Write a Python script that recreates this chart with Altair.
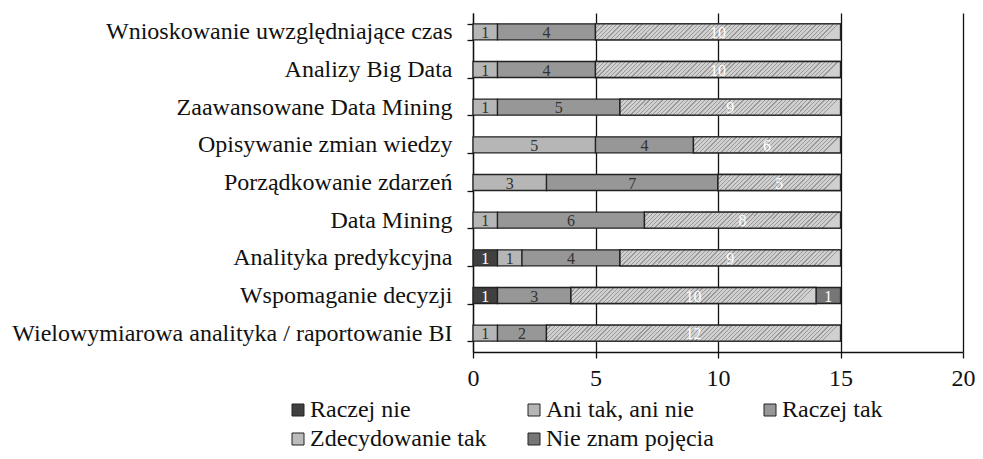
import altair as alt
import pandas as pd

categories = [
    "Wnioskowanie uwzględniające czas",
    "Analizy Big Data",
    "Zaawansowane Data Mining",
    "Opisywanie zmian wiedzy",
    "Porządkowanie zdarzeń",
    "Data Mining",
    "Analityka predykcyjna",
    "Wspomaganie decyzji",
    "Wielowymiarowa analityka / raportowanie BI",
]
series = ["Raczej nie", "Ani tak, ani nie", "Raczej tak", "Zdecydowanie tak", "Nie znam pojęcia"]
raczej_nie = [0, 0, 0, 0, 0, 0, 1, 1, 0]
ani_tak_ani_nie = [1, 1, 1, 5, 3, 1, 1, 0, 1]
raczej_tak = [4, 4, 5, 4, 7, 6, 4, 3, 2]
zdecydowanie_tak = [10, 10, 9, 6, 5, 8, 9, 10, 12]
nie_znam = [0, 0, 0, 0, 0, 0, 0, 1, 0]

colors = ["#404040", "#b6b6b6", "#979797", "#bcbcbc", "#767676"]
FONT = "Liberation Serif"

rows = []
for si, (name, vals) in enumerate(zip(series, [raczej_nie, ani_tak_ani_nie, raczej_tak, zdecydowanie_tak, nie_znam])):
    for c, v in zip(categories, vals):
        if v > 0:
            rows.append({"category": c, "series": name, "order": si, "value": v})
df = pd.DataFrame(rows)

W, H = 490, 339
BAR_H = 16
px_per_unit = W / 20.0


def hatch(value):
    width_px = value * px_per_unit
    n = max(1, int(round(width_px / 4.2)))
    stops = []
    light, dark = "#d0d0d0", "#999999"
    for i in range(n):
        a = i / n
        b = (i + 0.3) / n
        c = (i + 1) / n
        stops += [
            {"offset": a, "color": dark},
            {"offset": b, "color": dark},
            {"offset": b, "color": light},
            {"offset": c, "color": light},
        ]
    return {"gradient": "linear", "x1": 0, "y1": 0, "x2": 1, "y2": BAR_H / width_px, "stops": stops}


hatch_conditions = [
    {"test": f"datum.value == {v}", "value": hatch(v)} for v in sorted(set(zdecydowanie_tak))
]

y_enc = alt.Y(
    "category:N",
    sort=categories,
    title=None,
    scale=alt.Scale(paddingInner=0.574, paddingOuter=0.287),
    axis=alt.Axis(
        labelFont=FONT, labelFontSize=24, labelColor="#111", labelPadding=15,
        tickBand="extent", tickSize=6, tickColor="#111", tickWidth=1.3,
        domainColor="#111", domainWidth=1.3, labelLimit=700,
    ),
)
x_scale = alt.Scale(domain=[0, 20], nice=False)

base = alt.Chart(df).transform_stack(
    stack="value", groupby=["category"], as_=["x0", "x1"],
    sort=[alt.SortField("order", order="ascending")],
)

x_axis = alt.Axis(
    values=[0, 5, 10, 15, 20], grid=True, gridColor="#111", gridWidth=1.3,
    labelFont=FONT, labelFontSize=24, labelColor="#111", labelPadding=8, labelFlush=False,
    tickSize=6, tickColor="#111", tickWidth=1.3, domainColor="#111", domainWidth=1.3,
)

bars = base.mark_bar(stroke="#222", strokeWidth=1.3).encode(
    y=y_enc,
    x=alt.X("x0:Q", scale=x_scale, title=None, axis=x_axis),
    x2="x1:Q",
    color=alt.Color(
        "series:N",
        scale=alt.Scale(domain=series, range=colors),
        legend=alt.Legend(
            title=None, orient="none", legendX=-187, legendY=385, direction="horizontal",
            columns=3, columnPadding=35, rowPadding=5, gridAlign="all",
            symbolType="square", symbolSize=144,
            symbolStrokeColor="#222", symbolStrokeWidth=1, labelFont=FONT, labelFontSize=24,
            labelColor="#111", labelOffset=0, labelLimit=400,
        ),
    ),
)

hatched = base.transform_filter(alt.datum.series == "Zdecydowanie tak").mark_bar(
    stroke="#222", strokeWidth=1.3
).encode(
    y=y_enc,
    x=alt.X("x0:Q", scale=x_scale, title=None, axis=x_axis),
    x2="x1:Q",
    fill=alt.value("#bcbcbc", condition=hatch_conditions),
)

labels = base.transform_calculate(mid="(datum.x0 + datum.x1) / 2").mark_text(
    font=FONT, fontSize=16, baseline="middle", dy=1
).encode(
    y=y_enc,
    x=alt.X("mid:Q", scale=x_scale, title=None, axis=x_axis),
    text="value:Q",
    color=alt.condition(
        "datum.series == 'Zdecydowanie tak' || datum.series == 'Raczej nie' || datum.series == 'Nie znam pojęcia'",
        alt.value("#ffffff"),
        alt.value("#333333"),
    ),
)

chart = alt.layer(bars, hatched, labels).properties(
    width=W, height=H,
    autosize=alt.AutoSizeParams(type="none"),
    padding={"left": 465, "top": 5, "right": 12, "bottom": 100},
).configure(background="white", font=FONT).configure_view(stroke=None).configure_legend(
    labelFont=FONT, labelFontSize=24
).configure_axis(labelFont=FONT)

chart.save("out.html", embed_options={"renderer": "svg", "actions": False})
